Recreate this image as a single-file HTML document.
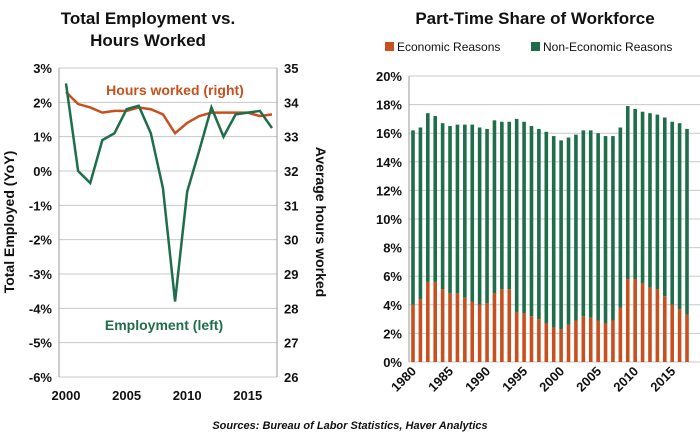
<!DOCTYPE html>
<html><head><meta charset="utf-8"><style>
body{margin:0;background:#fff;width:700px;height:438px;overflow:hidden;font-family:"Liberation Sans",sans-serif}
svg text{font-family:"Liberation Sans",sans-serif}
</style></head><body>
<svg id="c" width="700" height="438">
<text x="148" y="24" text-anchor="middle" font-size="17" font-weight="bold" fill="#111">Total Employment vs.</text>
<text x="148" y="46" text-anchor="middle" font-size="17" font-weight="bold" fill="#111">Hours Worked</text>
<text x="535" y="24" text-anchor="middle" font-size="17" font-weight="bold" fill="#111">Part-Time Share of Workforce</text>
<rect x="385" y="42" width="9" height="9" fill="#c8501e"/>
<text x="397" y="51" font-size="12" fill="#111">Economic Reasons</text>
<rect x="531" y="42" width="9" height="9" fill="#1e6e4a"/>
<text x="543" y="51" font-size="12" fill="#111">Non-Economic Reasons</text>
<text x="350" y="429" text-anchor="middle" font-size="11" font-style="italic" font-weight="bold" fill="#111">Sources: Bureau of Labor Statistics, Haver Analytics</text>
<g id="L"></g><g id="R"></g>
</svg>
<script>
const years=[2000,2001,2002,2003,2004,2005,2006,2007,2008,2009,2010,2011,2012,2013,2014,2015,2016,2017];
const employment=[2.55,0.0,-0.35,0.9,1.1,1.8,1.9,1.1,-0.5,-3.8,-0.6,0.6,1.85,1.0,1.65,1.7,1.75,1.25];
const hours=[34.3,33.95,33.85,33.7,33.75,33.75,33.85,33.8,33.65,33.1,33.4,33.6,33.7,33.7,33.7,33.7,33.6,33.65];
const leftTicks=[3,2,1,0,-1,-2,-3,-4,-5,-6];
const rightTicks=[35,34,33,32,31,30,29,28,27,26];
const ptYears=[];for(let y=1980;y<=2017;y++)ptYears.push(y);
const ptTotal=[16.2,16.4,17.4,17.2,16.7,16.5,16.6,16.6,16.6,16.4,16.3,16.9,16.8,16.8,17.0,16.8,16.5,16.3,16.1,15.8,15.5,15.7,15.9,16.2,16.2,16.0,15.8,15.8,16.4,17.9,17.7,17.5,17.4,17.3,17.1,16.8,16.7,16.3];
const ptEconomic=[4.0,4.4,5.6,5.6,5.1,4.8,4.8,4.5,4.2,4.0,4.1,4.8,5.1,5.1,3.5,3.4,3.2,3.0,2.7,2.4,2.3,2.6,2.9,3.2,3.1,2.9,2.7,2.9,3.8,5.8,5.8,5.5,5.2,5.1,4.6,4.0,3.7,3.3];
const ptTicks=[0,2,4,6,8,10,12,14,16,18,20];
const NS="http://www.w3.org/2000/svg";
function mk(p,t,a,txt){const e=document.createElementNS(NS,t);for(const k in a)e.setAttribute(k,a[k]);if(txt!==undefined)e.textContent=txt;p.appendChild(e);return e;}
// left
const L=document.getElementById('L');
const x0=59,x1=277,yT=68,yB=377;
const lx=i=>66+i*(272-66)/(years.length-1);
const ly=v=>yT+(3-v)*(yB-yT)/9;
const ry=v=>yT+(35-v)*(yB-yT)/9;
leftTicks.forEach((t,i)=>{const y=ly(t);
 let g=mk(L,'line',{x1:x0,x2:x1,y1:y,y2:y,stroke:'#c8c8c8','stroke-width':1});
 
 let e=mk(L,'text',{x:52,y:y+5,'text-anchor':'end','font-size':13,'font-weight':'bold',fill:'#111'},t+'%');
 });
rightTicks.forEach(t=>{let e=mk(L,'text',{x:284,y:ry(t)+5,'font-size':13,'font-weight':'bold',fill:'#111'},t);
 });
mk(L,'line',{x1:x0,x2:x0,y1:yT,y2:yB,stroke:'#999'});
mk(L,'line',{x1:x1,x2:x1,y1:yT,y2:yB,stroke:'#999'});
years.forEach((y,i)=>{if(y%5===0){let e=mk(L,'text',{x:lx(i),y:400,'text-anchor':'middle','font-size':13,'font-weight':'bold',fill:'#111'},y);
 }});
let ph=mk(L,'polyline',{points:hours.map((v,i)=>lx(i)+','+ry(v)).join(' '),fill:'none',stroke:'#c8501e','stroke-width':2.5});

let pe=mk(L,'polyline',{points:employment.map((v,i)=>lx(i)+','+ly(v)).join(' '),fill:'none',stroke:'#1e6e4a','stroke-width':2.5});

let a=mk(L,'text',{x:175,y:95,'text-anchor':'middle','font-size':14,'font-weight':'bold',fill:'#c8501e'},'Hours worked (right)');

a=mk(L,'text',{x:164,y:330,'text-anchor':'middle','font-size':14,'font-weight':'bold',fill:'#1e6e4a'},'Employment (left)');

a=mk(L,'text',{x:0,y:0,transform:'translate(14,222) rotate(-90)','text-anchor':'middle','font-size':14,'font-weight':'bold',fill:'#111'},'Total Employed (YoY)');

a=mk(L,'text',{x:0,y:0,transform:'translate(316,222) rotate(90)','text-anchor':'middle','font-size':14,'font-weight':'bold',fill:'#111'},'Average hours worked');

// right
const R=document.getElementById('R');
const bx0=409,bx1=700,bT=76,bB=362;
const by=v=>bB-v*(bB-bT)/20;
const bx=i=>413+i*(687-413)/(ptYears.length-1);
ptTicks.forEach(t=>{const y=by(t);
 let g=mk(R,'line',{x1:bx0,x2:bx1,y1:y,y2:y,stroke:'#c8c8c8'});
 
 let e=mk(R,'text',{x:402,y:y+5,'text-anchor':'end','font-size':13,'font-weight':'bold',fill:'#111'},t+'%');
 });
mk(R,'line',{x1:bx0,x2:bx0,y1:bT,y2:bB,stroke:'#999'});
ptYears.forEach((y,i)=>{const x=bx(i),w=3.6;
 let r1=mk(R,'rect',{x:x-w/2,y:by(ptEconomic[i]),width:w,height:by(0)-by(ptEconomic[i]),fill:'#c8501e'});
 
 let r2=mk(R,'rect',{x:x-w/2,y:by(ptTotal[i]),width:w,height:by(ptEconomic[i])-by(ptTotal[i]),fill:'#1e6e4a'});
 
 if(y%5===0){let e=mk(R,'text',{x:0,y:0,transform:'translate('+(x+4)+',372) rotate(-45)','text-anchor':'end','font-size':13,'font-weight':'bold',fill:'#111'},y);
 }});
</script>
</body></html>
